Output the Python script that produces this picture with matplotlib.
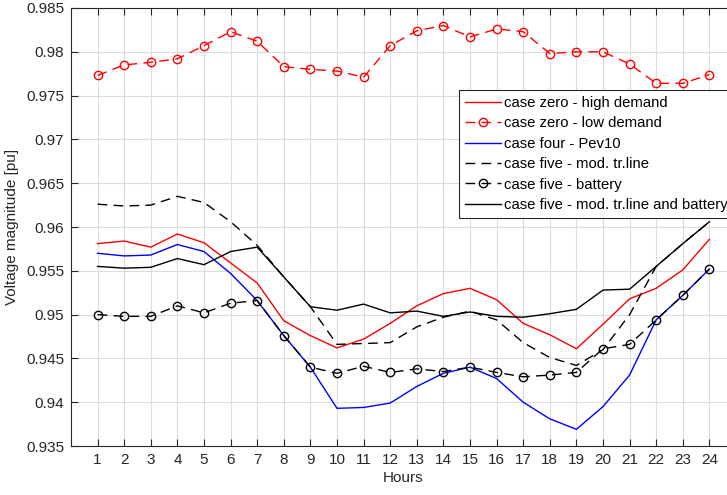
import numpy as np
import matplotlib
matplotlib.use('Agg')
import matplotlib.pyplot as plt


hours = list(range(1, 25))

high_demand = [0.9581, 0.9584, 0.9577, 0.9592, 0.9582, 0.9559, 0.9536, 0.9493,
               0.9476, 0.9462, 0.9472, 0.9490, 0.9510, 0.9524, 0.9530, 0.9517,
               0.9490, 0.9477, 0.9461, 0.9489, 0.9518, 0.9530, 0.9551, 0.9586]
low_demand = [0.9773, 0.9785, 0.9788, 0.9792, 0.9807, 0.9823, 0.9812, 0.9783,
              0.9780, 0.9778, 0.9771, 0.9807, 0.9824, 0.9830, 0.9817, 0.9826,
              0.9823, 0.9798, 0.9800, 0.9800, 0.9786, 0.9764, 0.9764, 0.9774]
pev10 = [0.9570, 0.9567, 0.9568, 0.9580, 0.9572, 0.9547, 0.9516, 0.9476,
         0.9440, 0.9393, 0.9394, 0.9399, 0.9418, 0.9433, 0.9440, 0.9427,
         0.9400, 0.9381, 0.9369, 0.9395, 0.9431, 0.9494, 0.9522, 0.9552]
mod_line = [0.9626, 0.9624, 0.9625, 0.9635, 0.9628, 0.9606, 0.9579, 0.9543,
            0.9509, 0.9466, 0.9467, 0.9468, 0.9486, 0.9497, 0.9504, 0.9494,
            0.9468, 0.9451, 0.9442, 0.9460, 0.9500, 0.9555, 0.9581, 0.9606]
battery = [0.9500, 0.9498, 0.9498, 0.9510, 0.9502, 0.9513, 0.9516, 0.9476,
           0.9440, 0.9433, 0.9441, 0.9434, 0.9438, 0.9435, 0.9440, 0.9434,
           0.9429, 0.9431, 0.9434, 0.9461, 0.9466, 0.9494, 0.9522, 0.9552]
line_and_battery = [0.9555, 0.9553, 0.9554, 0.9564, 0.9557, 0.9572, 0.9577, 0.9543,
                    0.9509, 0.9505, 0.9512, 0.9502, 0.9504, 0.9498, 0.9503, 0.9498,
                    0.9497, 0.9501, 0.9506, 0.9528, 0.9529, 0.9555, 0.9581, 0.9606]

y_ticks = [0.935, 0.94, 0.945, 0.95, 0.955, 0.96, 0.965, 0.97, 0.975, 0.98, 0.985]
y_tick_labels = ['0.935', '0.94', '0.945', '0.95', '0.955', '0.96', '0.965',
                 '0.97', '0.975', '0.98', '0.985']

plt.rcParams['font.family'] = ['Liberation Sans', 'DejaVu Sans']
plt.rcParams['font.size'] = 11

text_col = '#262626'
lw = 1.0
dash = (7, 4.5)

fig = plt.figure(figsize=(7.27, 4.95), dpi=100)
# the original is cropped on the right, so the axes run past the figure edge
ax = fig.add_axes([71 / 727, 1 - 446 / 495, 665 / 727, 438 / 495])

ax.plot(hours, high_demand, color='#ff0000', lw=lw, label='case zero - high demand')
ax.plot(hours, low_demand, color='#ff0000', lw=lw, dashes=dash, marker='o',
        markersize=6, markerfacecolor='none', markeredgewidth=1.0,
        label='case zero - low demand')
ax.plot(hours, pev10, color='#0000ff', lw=lw, label='case four - Pev10')
ax.plot(hours, mod_line, color='#000000', lw=lw, dashes=dash,
        label='case five - mod. tr.line')
ax.plot(hours, battery, color='#000000', lw=lw, dashes=dash, marker='o',
        markersize=6, markerfacecolor='none', markeredgewidth=1.0,
        label='case five - battery')
ax.plot(hours, line_and_battery, color='#000000', lw=lw,
        label='case five - mod. tr.line and battery')

ax.set_xlim(0, 25)
ax.set_ylim(0.935, 0.985)
ax.set_xticks(hours)
ax.set_yticks(y_ticks)
ax.set_yticklabels(y_tick_labels)

ax.grid(True, color='#dcdcdc', linewidth=0.8)
ax.set_axisbelow(True)
ax.tick_params(direction='in', length=5, width=0.8, colors=text_col,
               top=True, right=True, labelsize=11, pad=5)
for side in ['left', 'bottom', 'top', 'right']:
    ax.spines[side].set_color(text_col)
    ax.spines[side].set_linewidth(0.8)

ax.set_xlabel('Hours', color=text_col, fontsize=11, labelpad=3)
ax.set_ylabel('Voltage magnitude [pu]', color=text_col, fontsize=11, labelpad=5)

leg = fig.legend(loc='upper left', bbox_to_anchor=(459 / 727, 1 - 90 / 495),
                 borderaxespad=0, fontsize=10.7, frameon=True, fancybox=False,
                 framealpha=1, edgecolor=text_col, borderpad=0.4,
                 handlelength=2.4, handletextpad=0.2, labelspacing=0.43)
leg.get_frame().set_linewidth(0.8)
for t in leg.get_texts():
    t.set_color('#000000')

fig.savefig('out.png', dpi=100)
